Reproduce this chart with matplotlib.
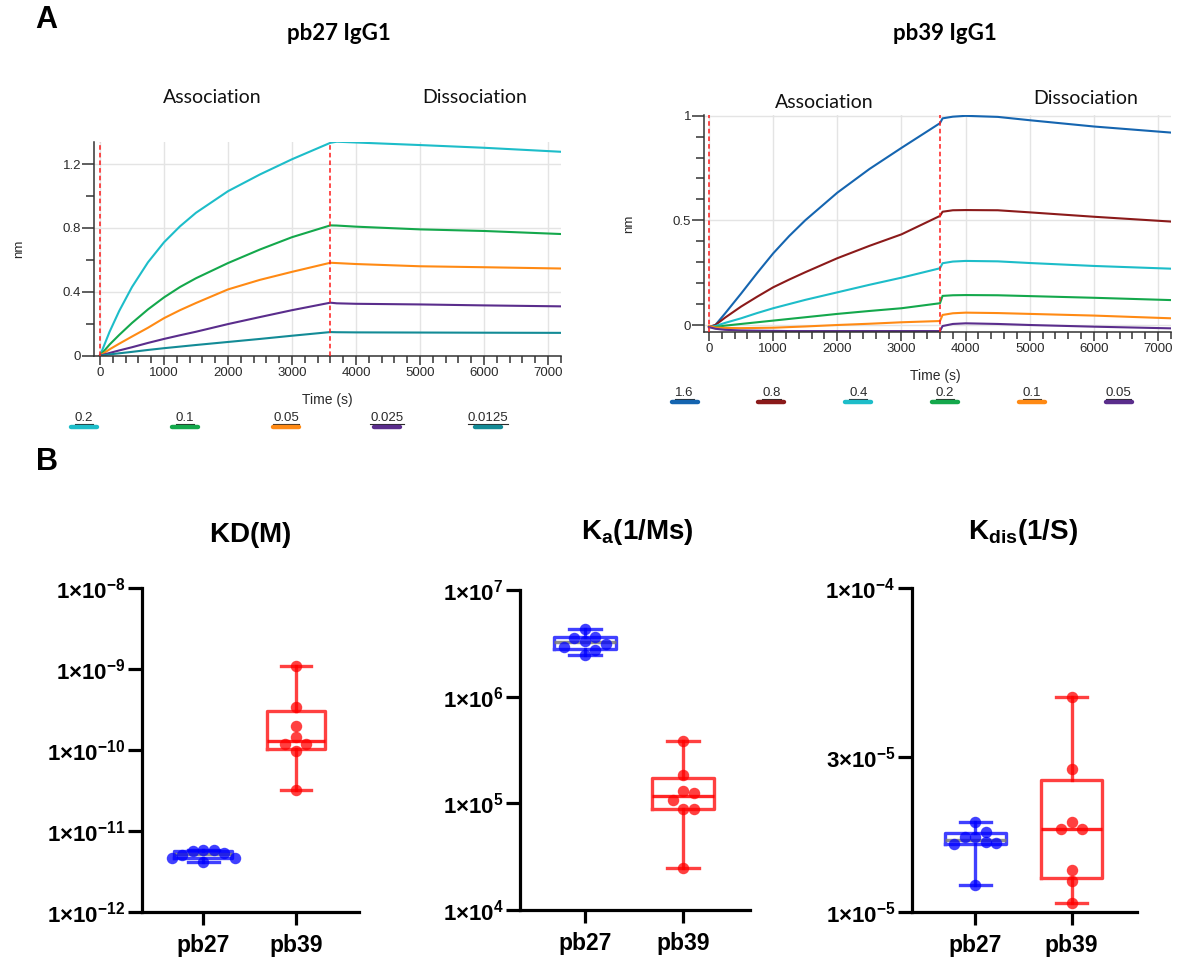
import numpy as np
import matplotlib
matplotlib.use('Agg')
import matplotlib.pyplot as plt
from matplotlib.lines import Line2D
from matplotlib.ticker import MultipleLocator, FixedLocator, NullLocator, FuncFormatter

# ---- panel A: octet sensorgrams ----
t27 = [0, 150, 300, 500, 750, 1000, 1250, 1500, 2000, 2500, 3000, 3600, 3700, 4000, 5000, 6000, 7200]
conc27 = ['0.2', '0.1', '0.05', '0.025', '0.0125']
nm27 = [
    [0, 0.150, 0.280, 0.430, 0.585, 0.710, 0.810, 0.895, 1.030, 1.135, 1.230, 1.333, 1.340, 1.335, 1.319, 1.302, 1.277],
    [0, 0.070, 0.130, 0.205, 0.290, 0.365, 0.430, 0.485, 0.580, 0.665, 0.742, 0.816, 0.815, 0.808, 0.791, 0.781, 0.762],
    [0, 0.040, 0.075, 0.120, 0.175, 0.235, 0.285, 0.330, 0.415, 0.475, 0.525, 0.582, 0.580, 0.574, 0.560, 0.554, 0.546],
    [0, 0.017, 0.033, 0.053, 0.080, 0.105, 0.128, 0.150, 0.198, 0.242, 0.285, 0.332, 0.328, 0.325, 0.321, 0.315, 0.309],
    [0, 0.008, 0.015, 0.024, 0.036, 0.047, 0.057, 0.067, 0.086, 0.105, 0.125, 0.148, 0.147, 0.146, 0.145, 0.144, 0.143],
]
col27 = ['#1dbdc9', '#14a84c', '#ff8a14', '#5a2d8c', '#138b96']

t39 = [0, 100, 250, 500, 750, 1000, 1250, 1500, 2000, 2500, 3000, 3600, 3640, 3800, 4000, 4500, 5000, 6000, 7200]
conc39 = ['1.6', '0.8', '0.4', '0.2', '0.1', '0.05']
nm39 = [
    [-0.010, 0.000, 0.055, 0.150, 0.248, 0.342, 0.425, 0.500, 0.632, 0.745, 0.846, 0.964, 0.987, 0.995, 0.999, 0.994, 0.978, 0.948, 0.919],
    [-0.010, 0.000, 0.035, 0.088, 0.135, 0.180, 0.217, 0.252, 0.319, 0.378, 0.433, 0.521, 0.541, 0.548, 0.549, 0.548, 0.538, 0.517, 0.494],
    [-0.010, -0.005, 0.010, 0.032, 0.057, 0.080, 0.100, 0.120, 0.156, 0.192, 0.226, 0.271, 0.295, 0.303, 0.306, 0.304, 0.296, 0.282, 0.269],
    [-0.010, -0.010, -0.003, 0.005, 0.013, 0.021, 0.029, 0.037, 0.053, 0.067, 0.080, 0.104, 0.139, 0.142, 0.143, 0.142, 0.138, 0.130, 0.119],
    [-0.005, -0.012, -0.014, -0.015, -0.014, -0.013, -0.010, -0.007, 0.000, 0.006, 0.013, 0.019, 0.048, 0.056, 0.059, 0.057, 0.053, 0.045, 0.032],
    [-0.010, -0.018, -0.023, -0.026, -0.027, -0.028, -0.029, -0.029, -0.029, -0.029, -0.029, -0.029, -0.005, 0.005, 0.008, 0.005, 0.000, -0.008, -0.016],
]
col39 = ['#1565b0', '#8b1a1a', '#1dbdc9', '#14a84c', '#ff8a14', '#5a2d8c']

# ---- panel B: fitted constants, 8 replicates each ----
groups = ['pb27', 'pb39']
kd27 = [5.9e-12, 5.75e-12, 5.6e-12, 5.3e-12, 5.0e-12, 4.65e-12, 4.6e-12, 4.1e-12]
kd39 = [1.1e-9, 3.4e-10, 2.0e-10, 1.43e-10, 1.19e-10, 1.19e-10, 9.8e-11, 3.2e-11]
ka27 = [4.28e6, 3.65e6, 3.52e6, 3.35e6, 3.1e6, 2.94e6, 2.74e6, 2.45e6]
ka39 = [3.8e5, 1.85e5, 1.31e5, 1.26e5, 1.07e5, 8.8e4, 8.8e4, 2.5e4]
kdis27 = [1.89e-5, 1.77e-5, 1.71e-5, 1.70e-5, 1.64e-5, 1.63e-5, 1.62e-5, 1.21e-5]
kdis39 = [4.61e-5, 2.77e-5, 1.90e-5, 1.81e-5, 1.80e-5, 1.35e-5, 1.245e-5, 1.067e-5]

W, H = 1178, 960
plt.rcParams['font.family'] = ['Liberation Sans', 'DejaVu Sans']
plt.rcParams['mathtext.fontset'] = 'custom'
plt.rcParams['mathtext.bf'] = 'Liberation Sans:bold'
plt.rcParams['mathtext.rm'] = 'Liberation Sans'

fig = plt.figure(figsize=(W / 100, H / 100), dpi=100)
TXT = '#2a2a2a'


def rect(l, r, t, b):
    return [l / W, 1 - b / H, (r - l) / W, (b - t) / H]


def px(x, y):
    return x / W, 1 - y / H


def sensor_axes(r, xlim, ylim, yticks, yminor):
    ax = fig.add_axes(r)
    ax.set_xlim(*xlim)
    ax.set_ylim(*ylim)
    ax.xaxis.set_major_locator(MultipleLocator(1000))
    ax.xaxis.set_minor_locator(MultipleLocator(200))
    ax.yaxis.set_major_locator(FixedLocator(yticks))
    ax.yaxis.set_minor_locator(MultipleLocator(yminor))
    ax.yaxis.set_major_formatter(FuncFormatter(lambda v, _: f'{v:g}'))
    ax.grid(True, which='major', color='#e4e4e4', lw=1.0)
    ax.set_axisbelow(True)
    for s in ['top', 'right']:
        ax.spines[s].set_visible(False)
    for s in ['left', 'bottom']:
        ax.spines[s].set_color('#333333')
        ax.spines[s].set_linewidth(1.1)
    ax.tick_params(axis='x', which='major', length=6.8, width=1.1, pad=1, labelsize=9.5, colors='#333333', labelcolor=TXT)
    ax.tick_params(axis='x', which='minor', length=5, width=1.1, colors='#333333')
    ax.tick_params(axis='y', which='major', length=8.4, width=1.1, pad=1, labelsize=9.5, colors='#333333', labelcolor=TXT)
    ax.tick_params(axis='y', which='minor', length=5.5, width=1.1, colors='#333333')
    for t0 in (0, 3600):
        ax.axvline(t0, color='#ff1a1a', ls=(0, (3, 2)), lw=1.1, zorder=3)
    return ax


def conc_legend(labels, colors, x0, step, y_text, y_line):
    renderer = fig.canvas.get_renderer()
    for i, (lab, col) in enumerate(zip(labels, colors)):
        x = x0 + i * step
        t = fig.text(*px(x, y_text), lab, ha='center', va='center', fontsize=9.5, color=TXT)
        bb = t.get_window_extent(renderer)
        fig.add_artist(Line2D([bb.x0 / W, bb.x1 / W], [(bb.y0 - 0.5) / H] * 2,
                              transform=fig.transFigure, color=TXT, lw=0.8))
        fig.add_artist(Line2D([(x - 13) / W, (x + 13) / W], [1 - y_line / H] * 2,
                              transform=fig.transFigure, color=col, lw=3.2, solid_capstyle='round'))


# left sensorgram
axL = sensor_axes(rect(94.3, 560.7, 141.7, 355.7), (-89, 7200), (0, 1.34), [0, 0.4, 0.8, 1.2], 0.2)
for y, c in zip(nm27, col27):
    axL.plot(t27, y, color=c, lw=1.5, zorder=2)
conc_legend(conc27, col27, 84, 101, 417.7, 426.7)

# right sensorgram
axR = sensor_axes(rect(704.3, 1171, 115, 331.7), (-73, 7200), (-0.032, 1.003), [0, 0.5, 1], 0.1)
for y, c in zip(nm39, col39):
    axR.plot(t39, y, color=c, lw=1.5, zorder=2)
conc_legend(conc39, col39, 684.6, 86.8, 392.7, 401.7)

for x, y in [(19, 249), (628.7, 224)]:
    fig.text(*px(x, y), 'nm', rotation=90, ha='center', va='center', fontsize=9.5, color=TXT)
fig.text(*px(327.6, 400), 'Time (s)', ha='center', va='center', fontsize=10, color=TXT)
fig.text(*px(935.7, 375.7), 'Time (s)', ha='center', va='center', fontsize=10, color=TXT)

fig.text(*px(339, 34), 'pb27 IgG1', ha='center', va='center', fontsize=16, fontweight='bold', family='Lato')
fig.text(*px(945, 33), 'pb39 IgG1', ha='center', va='center', fontsize=16, fontweight='bold', family='Lato')
for x, y, s in [(212.6, 97.7, 'Association'), (475, 97.7, 'Dissociation'),
                (824, 102, 'Association'), (1086, 99, 'Dissociation')]:
    fig.text(*px(x, y), s, ha='center', va='center', fontsize=14, family='Lato', color='#111111')

fig.text(*px(46.7, 20), 'A', ha='center', va='center', fontsize=22, fontweight='bold')
fig.text(*px(47, 462), 'B', ha='center', va='center', fontsize=22, fontweight='bold')


# ---- panel B boxes ----
def box_stats(vals):
    v = np.asarray(vals)
    q1, med, q3 = np.percentile(v, [25, 50, 75], method='weibull')
    return dict(med=med, q1=q1, q3=q3, whislo=v.min(), whishi=v.max(), fliers=[])


def swarm_x(ax, x0, vals, diam):
    pts = ax.transData.transform(np.column_stack([np.full(len(vals), float(x0)), vals]))
    unit = ax.transData.transform([[1, 1]])[0][0] - ax.transData.transform([[0, 1]])[0][0]
    placed, xs = [], []
    for y in pts[:, 1]:
        for k in [0, 1, -1, 2, -2, 3, -3, 4, -4, 5, -5]:
            dx = k * diam
            if all((dx - a) ** 2 + (y - b) ** 2 >= diam ** 2 for a, b in placed):
                break
        placed.append((dx, y))
        xs.append(x0 + dx / unit)
    return xs


def kinetic_panel(r, data, ylim, yticks, ylabels, title, title_xy):
    ax = fig.add_axes(r)
    ax.set_yscale('log')
    ax.set_xlim(-0.66, 1.68)
    ax.set_ylim(*ylim)
    for s in ['top', 'right']:
        ax.spines[s].set_visible(False)
    for s in ['left', 'bottom']:
        ax.spines[s].set_linewidth(2.3)
    for i, (vals, c, mc) in enumerate(zip(data, ['#0000ff', '#ff0000'], ['#7a7a7a', '#ff0000'])):
        ax.bxp([box_stats(vals)], positions=[i], widths=0.63, capwidths=0.33, showfliers=False,
               manage_ticks=False,
               boxprops=dict(color=c, lw=2.4, alpha=0.75),
               whiskerprops=dict(color=c, lw=2.4, alpha=0.75),
               capprops=dict(color=c, lw=2.4, alpha=0.75),
               medianprops=dict(color=mc, lw=2.4, alpha=0.85))
        ax.scatter(swarm_x(ax, i, vals, 10.5), vals, s=68, color=c, alpha=0.75, lw=0, zorder=3)
    ax.set_xlim(-0.66, 1.68)
    ax.set_ylim(*ylim)
    ax.set_yticks(yticks, labels=ylabels)
    ax.yaxis.set_minor_locator(NullLocator())
    ax.set_xticks([0, 1], labels=groups)
    ax.tick_params(axis='y', length=10, width=2.3, pad=2, labelsize=16)
    ax.tick_params(axis='x', length=9.5, width=2.3, pad=6, labelsize=16.5)
    for lab in ax.get_xticklabels():
        lab.set_fontweight('bold')
    fig.text(*px(*title_xy), title, ha='center', va='center', fontsize=20)
    return ax


def sci(m, e):
    return r'$\mathbf{%d{\times}10^{%d}}$' % (m, e)


kinetic_panel(rect(142, 359, 588, 912), [kd27, kd39], (1e-12, 1e-8),
              [1e-12, 1e-11, 1e-10, 1e-9, 1e-8], [sci(1, e) for e in (-12, -11, -10, -9, -8)],
              r'$\mathbf{KD(M)}$', (250, 535))
kinetic_panel(rect(520, 750, 590, 910), [ka27, ka39], (1e4, 1e7),
              [1e4, 1e5, 1e6, 1e7], [sci(1, e) for e in (4, 5, 6, 7)],
              r'$\mathbf{K_a(1/Ms)}$', (637, 532))
kinetic_panel(rect(912, 1137, 588, 912), [kdis27, kdis39], (1e-5, 1e-4),
              [1e-5, 3e-5, 1e-4], [sci(1, -5), sci(3, -5), sci(1, -4)],
              r'$\mathbf{K_{dis}(1/S)}$', (1023, 532))

fig.savefig('out.png', dpi=100)
